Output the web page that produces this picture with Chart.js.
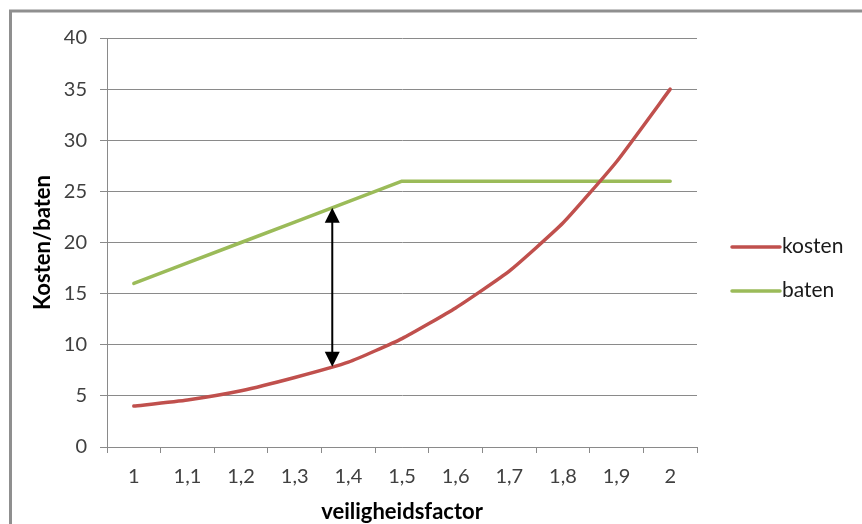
<!DOCTYPE html>
<html>
<head>
<meta charset="utf-8">
<title>Kosten en baten per veiligheidsfactor</title>
<script src="https://cdn.jsdelivr.net/npm/chart.js@4/dist/chart.umd.min.js"></script>
<style>
  html, body { margin: 0; padding: 0; background: #ffffff; }
  #wrap { width: 862px; height: 524px; position: relative; }
</style>
</head>
<body>
<div id="wrap"><canvas id="grafiek" width="862" height="524"></canvas></div>
<script>
// Veiligheidsfactor op de horizontale as
const veiligheidsfactor = ['1', '1,1', '1,2', '1,3', '1,4', '1,5', '1,6', '1,7', '1,8', '1,9', '2'];
const factorWaarden = [1, 1.1, 1.2, 1.3, 1.4, 1.5, 1.6, 1.7, 1.8, 1.9, 2];

// Kosten en baten per veiligheidsfactor
const kosten = [4.0, 4.6, 5.5, 6.8, 8.3, 10.6, 13.6, 17.2, 21.9, 27.9, 35.0];
const baten = [16, 18, 20, 22, 24, 26, 26, 26, 26, 26, 26];

// Verticale as: 0 t/m 40 in stappen van 5
const yMin = 0;
const yMax = 40;
const yStap = 5;

// Veiligheidsfactor waar de pijl het verschil tussen baten en kosten aangeeft
const pijlFactor = 1.37;

const ROOD = '#C0504D';
const GROEN = '#9BBB59';
const RASTER = '#8a8a8a';
const TEKST = '#404040';
const LETTER = 'Lato, "Open Sans", "Liberation Sans", sans-serif';

// Lineaire interpolatie van een reeks op een (fractionele) categorie-index
function waardeOp(reeks, index) {
  const i = Math.max(0, Math.min(reeks.length - 2, Math.floor(index)));
  const t = index - i;
  return reeks[i] + (reeks[i + 1] - reeks[i]) * t;
}

// Fractionele index van een veiligheidsfactor op de categorie-as
function indexVan(factor) {
  for (let i = 0; i < factorWaarden.length - 1; i++) {
    if (factor >= factorWaarden[i] && factor <= factorWaarden[i + 1]) {
      return i + (factor - factorWaarden[i]) / (factorWaarden[i + 1] - factorWaarden[i]);
    }
  }
  return 0;
}

// Witte achtergrond en kader links/boven
const kaderPlugin = {
  id: 'kader',
  beforeDraw(chart) {
    const ctx = chart.ctx;
    ctx.save();
    ctx.fillStyle = '#ffffff';
    ctx.fillRect(0, 0, chart.width, chart.height);
    ctx.strokeStyle = '#8f8f8f';
    ctx.lineWidth = 3;
    ctx.beginPath();
    ctx.moveTo(10.5, chart.height);
    ctx.lineTo(10.5, 11);
    ctx.lineTo(chart.width, 11);
    ctx.stroke();
    ctx.restore();
  }
};

// Dubbele pijl tussen de kosten- en batenlijn
const pijlPlugin = {
  id: 'pijl',
  afterDatasetsDraw(chart) {
    const x = chart.scales.x;
    const y = chart.scales.y;
    const idx = indexVan(pijlFactor);
    const px = x.getPixelForValue(idx);
    const boven = y.getPixelForValue(waardeOp(baten, idx));
    const onder = y.getPixelForValue(waardeOp(kosten, idx));
    const kopH = 15;
    const kopB = 7.5;
    const ctx = chart.ctx;
    ctx.save();
    ctx.strokeStyle = '#000000';
    ctx.fillStyle = '#000000';
    ctx.lineWidth = 2;
    ctx.beginPath();
    ctx.moveTo(px, boven + kopH - 1);
    ctx.lineTo(px, onder - kopH + 1);
    ctx.stroke();
    ctx.beginPath();
    ctx.moveTo(px, boven);
    ctx.lineTo(px - kopB, boven + kopH);
    ctx.lineTo(px + kopB, boven + kopH);
    ctx.closePath();
    ctx.fill();
    ctx.beginPath();
    ctx.moveTo(px, onder);
    ctx.lineTo(px - kopB, onder - kopH);
    ctx.lineTo(px + kopB, onder - kopH);
    ctx.closePath();
    ctx.fill();
    ctx.restore();
  }
};

// Legenda rechts van het grafiekgebied
const legendaPlugin = {
  id: 'legenda',
  afterDraw(chart) {
    const ctx = chart.ctx;
    const x0 = chart.chartArea.right + 35;
    const yStart = 247;
    const afstand = 44;
    ctx.save();
    ctx.font = '21px ' + LETTER;
    ctx.textBaseline = 'middle';
    ctx.textAlign = 'left';
    chart.data.datasets.forEach((ds, i) => {
      const yy = yStart + i * afstand;
      ctx.strokeStyle = ds.borderColor;
      ctx.lineWidth = 3.5;
      ctx.lineCap = 'round';
      ctx.beginPath();
      ctx.moveTo(x0, yy);
      ctx.lineTo(x0 + 48, yy);
      ctx.stroke();
      ctx.fillStyle = '#1a1a1a';
      ctx.fillText(ds.label, x0 + 50, yy - 1);
    });
    ctx.restore();
  }
};

new Chart(document.getElementById('grafiek'), {
  type: 'line',
  data: {
    labels: veiligheidsfactor,
    datasets: [
      {
        label: 'kosten',
        data: kosten,
        borderColor: ROOD,
        backgroundColor: ROOD,
        borderWidth: 3.5,
        pointRadius: 0,
        tension: 0.15,
        borderCapStyle: 'round',
        borderJoinStyle: 'round',
        fill: false
      },
      {
        label: 'baten',
        data: baten,
        borderColor: GROEN,
        backgroundColor: GROEN,
        borderWidth: 3.5,
        pointRadius: 0,
        tension: 0,
        borderCapStyle: 'round',
        borderJoinStyle: 'round',
        fill: false
      }
    ]
  },
  options: {
    responsive: false,
    animation: false,
    layout: { padding: { left: 30, top: 38, right: 165, bottom: 0 } },
    plugins: {
      legend: { display: false },
      tooltip: { enabled: false }
    },
    scales: {
      x: {
        type: 'category',
        offset: true,
        grid: {
          offset: true,
          drawOnChartArea: false,
          drawTicks: true,
          tickLength: 6,
          color: RASTER,
          lineWidth: 1
        },
        border: { display: true, color: RASTER, width: 1 },
        ticks: {
          color: TEKST,
          font: { family: LETTER, size: 20 },
          padding: 12,
          maxRotation: 0,
          autoSkip: false
        },
        title: {
          display: true,
          text: 'veiligheidsfactor',
          color: '#000000',
          font: { family: LETTER, size: 22, weight: 'bold' },
          padding: { top: 0, bottom: -1 }
        },
        afterFit(scale) { scale.height = 77; }
      },
      y: {
        min: yMin,
        max: yMax,
        grid: {
          color: RASTER,
          lineWidth: 1,
          drawTicks: true,
          tickLength: 7
        },
        border: { display: true, color: RASTER, width: 1 },
        ticks: {
          stepSize: yStap,
          color: TEKST,
          font: { family: LETTER, size: 20 },
          padding: 13
        },
        title: {
          display: true,
          text: 'Kosten/baten',
          color: '#000000',
          font: { family: LETTER, size: 22, weight: 'bold' },
          padding: { top: 0, bottom: 0 }
        },
        afterFit(scale) { scale.width = 77; }
      }
    }
  },
  plugins: [kaderPlugin, pijlPlugin, legendaPlugin]
});
</script>
</body>
</html>
